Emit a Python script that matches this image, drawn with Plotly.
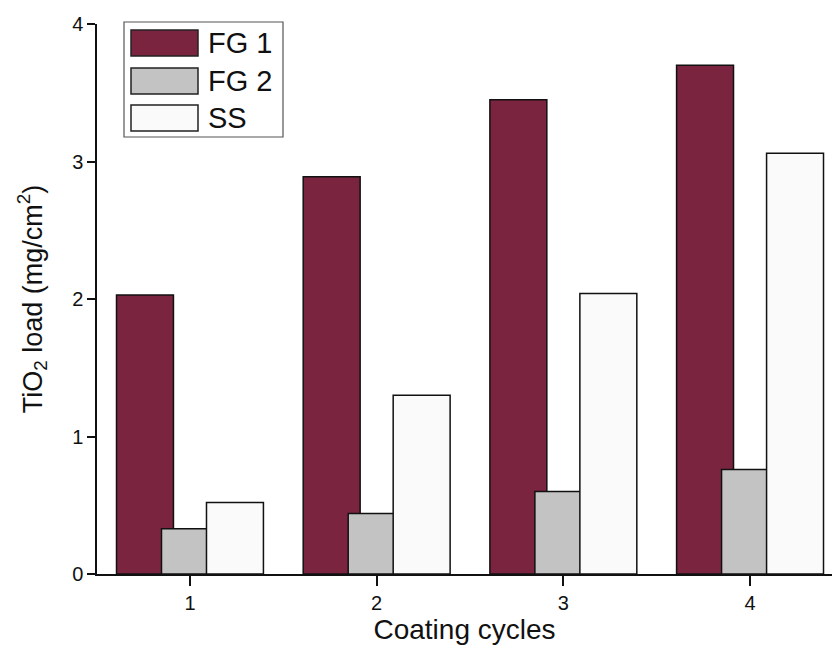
import plotly.graph_objects as go

cycles = [1, 2, 3, 4]
series_names = ["FG 1", "FG 2", "SS"]
fg1 = [2.03, 2.89, 3.45, 3.70]
fg2 = [0.33, 0.44, 0.60, 0.76]
ss = [0.52, 1.30, 2.04, 3.06]
y_ticks = [0, 1, 2, 3, 4]

colors = ["#7A2440", "#C3C3C3", "#FAFAFA"]
values = [fg1, fg2, ss]
width = 0.305
centers = [-0.241, 0.0, 0.241]

FONT = "Arial, Liberation Sans, sans-serif"

fig = go.Figure()
for name, vals, col, c in zip(series_names, values, colors, centers):
    fig.add_trace(go.Bar(
        x=cycles, y=vals, name=name,
        width=width, offset=c - width / 2,
        marker=dict(color=col, line=dict(color="#111111", width=1.5)),
        showlegend=False,
    ))

L, R, T, B = 97, 0, 24, 73
W, H = 832, 647
pw, ph = W - L - R, H - T - B


def px(x):
    return (x - L) / pw


def py(y):
    return (H - B - y) / ph


fig.update_layout(
    width=W, height=H,
    margin=dict(l=L, r=R, t=T, b=B, pad=0),
    barmode="overlay",
    plot_bgcolor="white", paper_bgcolor="white",
    font=dict(family=FONT, color="#111111"),
    xaxis=dict(
        range=[0.502, 4.439], tickvals=cycles, ticktext=[str(c) for c in cycles],
        showline=True, linecolor="#111111", linewidth=1.5,
        ticks="outside", ticklen=10, tickwidth=1.5, tickcolor="#111111",
        showgrid=False, zeroline=False, tickfont=dict(size=20, family=FONT),
        title=dict(text="Coating cycles", font=dict(size=28, family=FONT), standoff=6),
    ),
    yaxis=dict(
        range=[0, 4], tickvals=y_ticks,
        showline=True, linecolor="#111111", linewidth=1.5,
        ticks="outside", ticklen=8, tickwidth=1.5, tickcolor="#111111",
        showgrid=False, zeroline=False, tickfont=dict(size=20, family=FONT),
        title=dict(text="TiO<sub>2</sub> load (mg/cm<sup>2</sup>)", font=dict(size=27, family=FONT), standoff=22),
    ),
)

# legend box drawn manually (wide swatches like the original)
shapes = [dict(type="rect", xref="paper", yref="paper",
               x0=px(124), x1=px(283), y0=py(137), y1=py(22),
               line=dict(color="#555555", width=1.2), fillcolor="white", layer="above")]
rows = [(30, 56), (68, 94), (105, 131)]
annotations = []
for (y0, y1), col, name in zip(rows, colors, series_names):
    shapes.append(dict(type="rect", xref="paper", yref="paper",
                       x0=px(131), x1=px(198), y0=py(y1), y1=py(y0),
                       line=dict(color="#222222", width=1.5), fillcolor=col, layer="above"))
    annotations.append(dict(xref="paper", yref="paper", x=px(206), y=py((y0 + y1) / 2),
                            text=name, showarrow=False, xanchor="left", yanchor="middle",
                            font=dict(size=29, family=FONT, color="#111111")))
fig.update_layout(shapes=shapes, annotations=annotations)

fig.write_html("out.html", config={"displayModeBar": False},
               post_script="document.body.style.margin='0';document.body.style.overflow='hidden';")
